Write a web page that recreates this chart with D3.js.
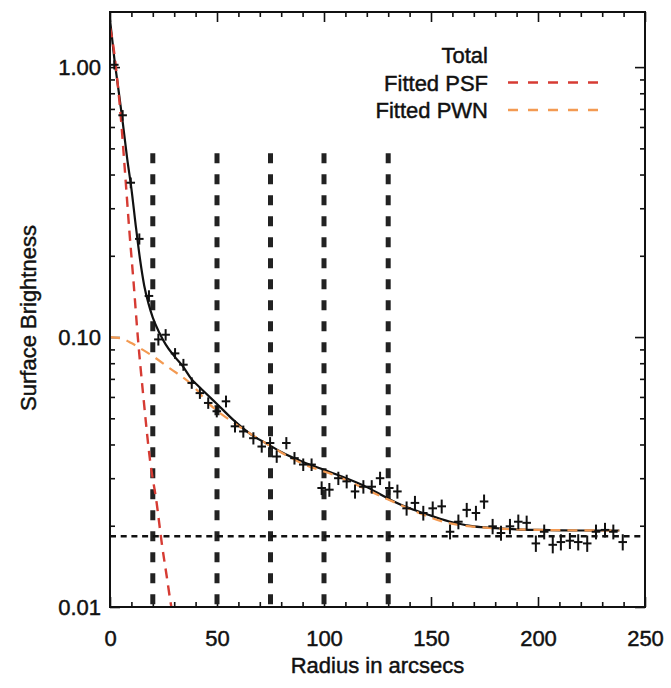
<!DOCTYPE html>
<html><head><meta charset="utf-8">
<script src="https://cdn.jsdelivr.net/npm/d3@7"></script>
<style>
body{margin:0;background:#fff;}
svg{display:block;font-family:"Liberation Sans",Arial,Helvetica,sans-serif;}
text{stroke:#111;stroke-width:0.45px;}
</style></head>
<body><svg id="c" width="671" height="688"></svg>
<script>
// ---- data ----
const radius = [2,5.9,9.7,13.7,18.2,22.6,26,30.4,34.3,38.2,42,45.9,49.9,54.2,58.4,62.3,67,70.9,74.8,77.9,
  82.4,86.2,90.3,94.2,98.9,102.5,106.7,110.6,114.5,118.4,122.3,126.2,130.5,134.3,138.6,142.5,146.4,150.8,155,158.9,
  162.8,166.7,171,174.8,178.8,182.7,186.9,190.8,194.7,199,202.9,206.9,210.7,214.9,218.8,223,227.1,231.3,235.2,239.6];
const brightness = [1.02,0.663,0.373,0.231,0.142,0.098,0.102,0.087,0.079,0.0676,0.062,0.057,0.0531,0.0578,0.0467,0.0447,0.0422,0.0393,0.0405,0.0361,
  0.0405,0.0356,0.0337,0.0337,0.0276,0.0272,0.030,0.0292,0.0268,0.0279,0.0279,0.030,0.0276,0.0268,0.0232,0.0243,0.0223,0.0232,0.0236,0.019,
  0.0207,0.0229,0.0223,0.0246,0.0199,0.0188,0.0199,0.0207,0.0205,0.0172,0.019,0.017,0.0174,0.0176,0.0174,0.0172,0.019,0.0193,0.019,0.0174];
const brightnessErr = [0.04,0.03,0.017,0.011,0.007,0.005,0.005,0.004,0.004,0.0033,0.003,0.0028,0.0027,0.0029,0.0024,0.0023,0.0022,0.002,0.0021,0.0019,
  0.0021,0.0019,0.0018,0.0018,0.0016,0.0016,0.0017,0.0017,0.0016,0.0016,0.0016,0.0017,0.0016,0.0016,0.0014,0.0015,0.0014,0.0014,0.0014,0.0012,
  0.0013,0.0014,0.0014,0.0015,0.0013,0.0012,0.0013,0.0013,0.0013,0.0012,0.0012,0.0012,0.0012,0.0012,0.0012,0.0012,0.0012,0.0012,0.0012,0.0012];
const radiusHalfBin = 2;

const totalR   = [0,2,4,6,8,10,12,14,16,18,20,23,26,30,34,38,42,50,58,66,74,80,90,100,108,120,130,140,150,160,170,180,190,200,220,238];
const totalVal = [1.5,1.08,0.82,0.62,0.46,0.355,0.26,0.195,0.155,0.133,0.118,0.104,0.094,0.085,0.078,0.070,0.065,0.0565,0.049,0.0435,0.040,0.0375,0.0345,0.0322,0.0305,0.0278,0.0252,0.0232,0.0218,0.0206,0.0199,0.0196,0.0194,0.0193,0.0192,0.0192];

const psfR   = [0,1,3,5,7,9,11,13,15.6,18.7,21.8,24.2,26.5,28.4,29.5];
const psfVal = [1.40,1.28,0.96,0.66,0.41,0.25,0.16,0.10,0.060,0.035,0.0243,0.0172,0.013,0.0103,0.0092];

const pwnR   = [0,5,10,15,20,28,37.4,46.7,57.6,71.6,88.8,107.5,130,159,179,200,238];
const pwnVal = [0.100,0.099,0.095,0.090,0.085,0.0765,0.0676,0.0562,0.0483,0.0410,0.0343,0.0302,0.0250,0.0204,0.0196,0.0193,0.0192];

const markRadii = [20,50,75,100,130];
const markTop = 0.48;
const backgroundLevel = 0.0183;

const xMajor = [0,50,100,150,200,250];
const xMinor = [10,20,30,40,60,70,80,90,110,120,130,140,160,170,180,190,210,220,230,240];
const yMajor = [0.01,0.1,1];
const yMinor = [0.02,0.03,0.04,0.05,0.06,0.07,0.08,0.09,0.2,0.3,0.4,0.5,0.6,0.7,0.8,0.9];

const legendItems = [
  {label:"Total", color:null},
  {label:"Fitted PSF", color:"#d63b33"},
  {label:"Fitted PWN", color:"#f39a52"}
];

// ---- layout ----
const L=110, R=645, T=12, B=607;
const svg = d3.select("#c");
const x = d3.scaleLinear().domain([0,250]).range([L,R]);
const y = d3.scaleLog().domain([0.01,1.6]).range([B,T]);
const FS = 22;

function styleAxis(g){ g.select(".domain").remove(); g.selectAll("line").attr("stroke","#111").attr("stroke-width",1.6); g.selectAll("text").attr("font-size",FS).attr("fill","#111").attr("font-family",null); }

svg.append("g").attr("transform",`translate(0,${B})`).call(d3.axisBottom(x).tickValues(xMajor).tickSize(-10).tickPadding(23).tickFormat(d3.format("d"))).call(styleAxis);
svg.append("g").attr("transform",`translate(0,${B})`).call(d3.axisBottom(x).tickValues(xMinor).tickSize(-5).tickFormat("")).call(styleAxis);
svg.append("g").attr("transform",`translate(0,${T})`).call(d3.axisTop(x).tickValues(xMajor).tickSize(-10).tickFormat("")).call(styleAxis);
svg.append("g").attr("transform",`translate(0,${T})`).call(d3.axisTop(x).tickValues(xMinor).tickSize(-5).tickFormat("")).call(styleAxis);
svg.append("g").attr("transform",`translate(${L},0)`).call(d3.axisLeft(y).tickValues(yMajor).tickSize(-10).tickPadding(9).tickFormat(d3.format(".2f"))).call(styleAxis);
svg.append("g").attr("transform",`translate(${L},0)`).call(d3.axisLeft(y).tickValues(yMinor).tickSize(-5).tickFormat("")).call(styleAxis);
svg.append("g").attr("transform",`translate(${R},0)`).call(d3.axisRight(y).tickValues(yMajor).tickSize(-10).tickFormat("")).call(styleAxis);
svg.append("g").attr("transform",`translate(${R},0)`).call(d3.axisRight(y).tickValues(yMinor).tickSize(-5).tickFormat("")).call(styleAxis);

svg.append("clipPath").attr("id","pc").append("rect").attr("x",L).attr("y",T).attr("width",R-L).attr("height",B-T);
const plot = svg.append("g").attr("clip-path","url(#pc)");

// vertical dashed markers
plot.selectAll(".vm").data(markRadii).join("line")
  .attr("x1",d=>x(d)).attr("x2",d=>x(d)).attr("y1",y(markTop)).attr("y2",y(0.01))
  .attr("stroke","#222").attr("stroke-width",5).attr("stroke-dasharray","10,11");
// horizontal background
plot.append("line").attr("x1",L).attr("x2",R).attr("y1",y(backgroundLevel)).attr("y2",y(backgroundLevel))
  .attr("stroke","#111").attr("stroke-width",2.5).attr("stroke-dasharray","6,4.7");

const line = d3.line().x(d=>x(d[0])).y(d=>y(d[1])).curve(d3.curveMonotoneX);
plot.append("path").datum(totalR.map((r,i)=>[r,totalVal[i]])).attr("d",line).attr("fill","none").attr("stroke","#111").attr("stroke-width",2.2);
plot.append("path").datum(pwnR.map((r,i)=>[r,pwnVal[i]])).attr("d",line).attr("fill","none").attr("stroke",legendItems[2].color).attr("stroke-width",2.2).attr("stroke-dasharray","10,7");
plot.append("path").datum(psfR.map((r,i)=>[r,psfVal[i]])).attr("d",line).attr("fill","none").attr("stroke",legendItems[1].color).attr("stroke-width",2.4).attr("stroke-dasharray","10,7");

// data crosses
const pts = plot.append("g").attr("stroke","#111").attr("stroke-width",2);
radius.forEach((r,i)=>{
  const v=brightness[i], e=brightnessErr[i];
  pts.append("line").attr("x1",x(r)).attr("x2",x(r)).attr("y1",y(v-e)).attr("y2",y(v+e));
  pts.append("line").attr("x1",x(r-radiusHalfBin)).attr("x2",x(r+radiusHalfBin)).attr("y1",y(v)).attr("y2",y(v));
});

// frame
svg.append("rect").attr("x",L).attr("y",T).attr("width",R-L).attr("height",B-T).attr("fill","none").attr("stroke","#111").attr("stroke-width",2);

// titles
svg.append("text").attr("x",(L+R)/2).attr("y",673).attr("text-anchor","middle").attr("font-size",FS).attr("fill","#111").text("Radius in arcsecs");
svg.append("text").attr("transform",`translate(36,318) rotate(-90)`).attr("text-anchor","middle").attr("font-size",FS).attr("fill","#111").text("Surface Brightness");

// legend
const lg = svg.append("g");
legendItems.forEach((d,i)=>{
  const yy = 55 + i*27.5;
  lg.append("text").attr("x",488).attr("y",yy+8).attr("text-anchor","end").attr("font-size",FS).attr("fill","#111").text(d.label);
  if(d.color) lg.append("line").attr("x1",508).attr("x2",598).attr("y1",yy).attr("y2",yy).attr("stroke",d.color).attr("stroke-width",2.4).attr("stroke-dasharray","10,10");
});
</script></body></html>
